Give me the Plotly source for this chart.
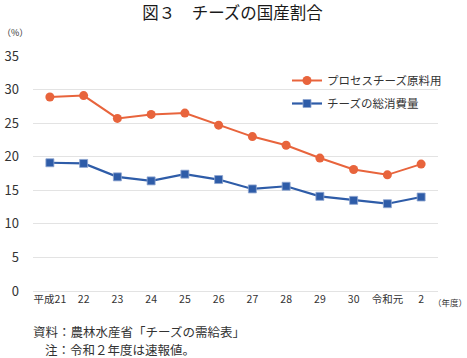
import plotly.graph_objects as go

categories = ["平成21", "22", "23", "24", "25", "26", "27", "28", "29", "30", "令和元", "2"]
process_cheese = [28.9, 29.1, 25.7, 26.3, 26.5, 24.7, 23.0, 21.7, 19.8, 18.1, 17.3, 18.9]
total_cheese = [19.1, 19.0, 17.0, 16.4, 17.4, 16.6, 15.2, 15.6, 14.1, 13.5, 13.0, 14.0]
y_ticks = [0, 5, 10, 15, 20, 25, 30, 35]

FONT = "Noto Sans CJK JP"
ORANGE = "#E8643C"
BLUE = "#2E5CA8"

W, H = 467, 358
L, R, T, B = 33, 29, 56, 67
PW, PH = W - L - R, H - T - B


def px_x(x):
    return (x - L) / PW


def px_y(y):
    return (H - B - y) / PH


fig = go.Figure()
fig.add_trace(go.Scatter(
    x=categories, y=process_cheese, name="プロセスチーズ原料用",
    mode="lines+markers", legendgroup="a",
    line=dict(color=ORANGE, width=2),
    marker=dict(symbol="circle", size=9, color=ORANGE),
))
fig.add_trace(go.Scatter(
    x=categories, y=total_cheese, name="チーズの総消費量",
    mode="lines+markers", legendgroup="b",
    line=dict(color=BLUE, width=2.2),
    marker=dict(symbol="square", size=8, color=BLUE, line=dict(color="#8fa6d0", width=0.8)),
))

fig.update_layout(
    width=W, height=H,
    margin=dict(l=L, r=R, t=T, b=B),
    paper_bgcolor="white", plot_bgcolor="white",
    font=dict(family=FONT, color="#333333", size=11),
    title=dict(text="図３　チーズの国産割合", xref="container", x=232.5 / W, xanchor="center",
               yref="container", y=1 - 13 / H, yanchor="middle",
               font=dict(family=FONT, size=16.5, color="#1a1a1a")),
    showlegend=True,
    legend=dict(x=px_x(287), y=px_y(66), xanchor="left", yanchor="top", bgcolor="rgba(0,0,0,0)",
                font=dict(size=11.5, color="#333333"), traceorder="grouped", tracegroupgap=4,
                itemwidth=30),
    xaxis=dict(type="category", range=[-0.5, 11.5], showgrid=False, showline=False, automargin=False,
               ticks="", tickfont=dict(size=10.5, color="#333333"), fixedrange=True),
    yaxis=dict(range=[0, 35], tickvals=y_ticks, showgrid=True, gridcolor="#e3e3e3", gridwidth=1,
               zeroline=True, zerolinecolor="#e3e3e3", zerolinewidth=1, showline=False, automargin=False,
               ticks="", ticklabelstandoff=13, tickfont=dict(size=13, color="#333333")),
)

fig.add_annotation(x=px_x(0), y=px_y(33), xref="paper", yref="paper", text="（%）",
                   showarrow=False, xanchor="left", yanchor="middle", font=dict(size=9))
fig.add_annotation(x=px_x(431), y=px_y(302), xref="paper", yref="paper", text="（年度）",
                   showarrow=False, xanchor="left", yanchor="middle", font=dict(size=8.5))
fig.add_annotation(x=px_x(31), y=px_y(331), xref="paper", yref="paper",
                   text="資料：農林水産省「チーズの需給表」",
                   showarrow=False, xanchor="left", yanchor="middle", font=dict(size=12.5))
fig.add_annotation(x=px_x(43), y=px_y(349), xref="paper", yref="paper",
                   text="注：令和２年度は速報値。",
                   showarrow=False, xanchor="left", yanchor="middle", font=dict(size=12.5))

fig.write_html("out.html", config={"displayModeBar": False},
               post_script="document.body.style.margin='0px';document.body.style.overflow='hidden';")
